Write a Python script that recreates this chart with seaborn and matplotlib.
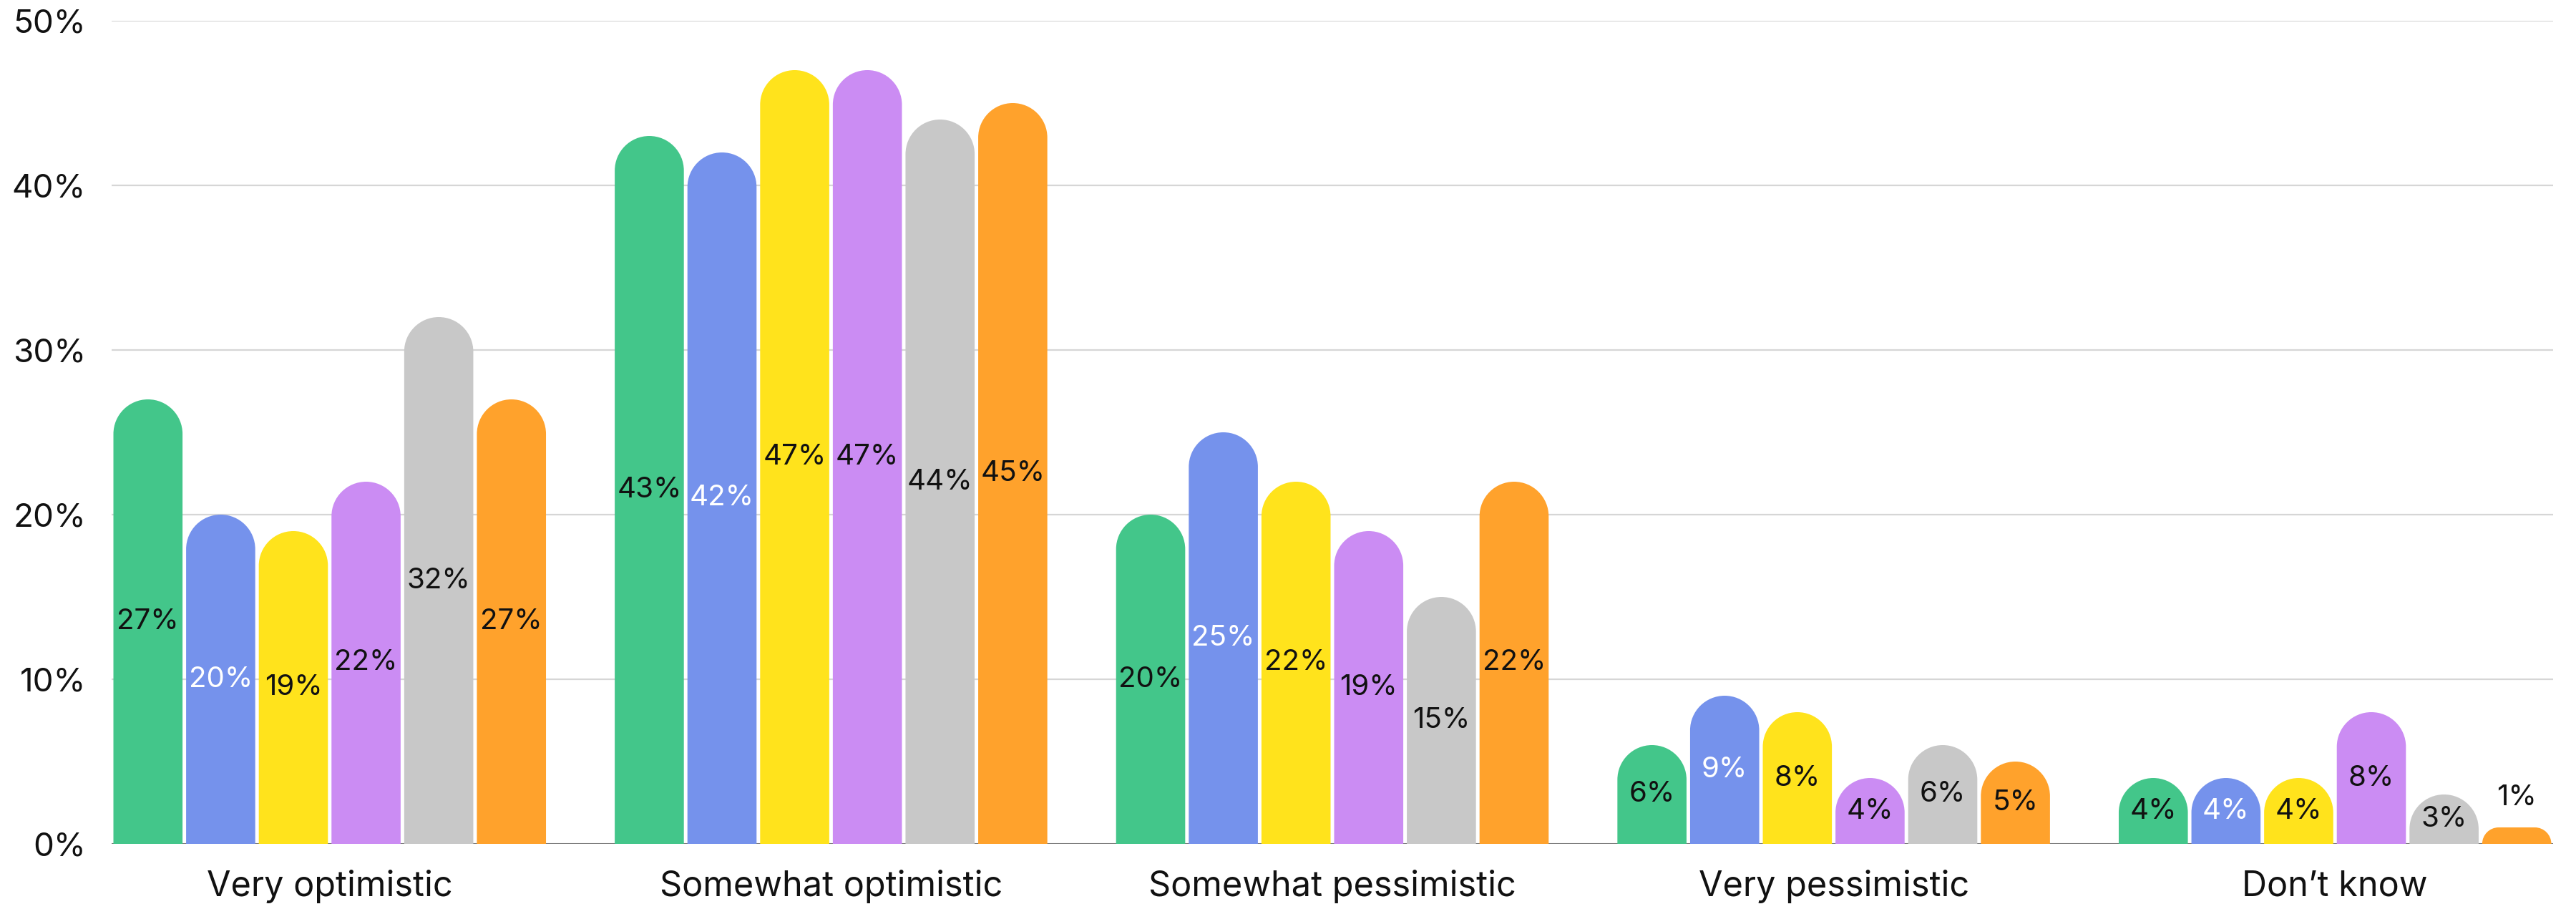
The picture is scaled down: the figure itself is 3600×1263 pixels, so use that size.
import matplotlib
matplotlib.use("Agg")
import numpy as np
import pandas as pd
import seaborn as sns
import matplotlib.pyplot as plt
from matplotlib.path import Path
from matplotlib.patches import PathPatch
from matplotlib.ticker import PercentFormatter

# ---------------- data ----------------
categories = ["Very optimistic", "Somewhat optimistic", "Somewhat pessimistic",
              "Very pessimistic", "Don\u2019t know"]
series = ["Group 1", "Group 2", "Group 3", "Group 4", "Group 5", "Group 6"]
green_vals = [27, 43, 20, 6, 4]
blue_vals = [20, 42, 25, 9, 4]
yellow_vals = [19, 47, 22, 8, 4]
purple_vals = [22, 47, 19, 4, 8]
gray_vals = [32, 44, 15, 6, 3]
orange_vals = [27, 45, 22, 5, 1]
all_vals = [green_vals, blue_vals, yellow_vals, purple_vals, gray_vals, orange_vals]

colors = ["#43C68A", "#7592EC", "#FFE31C", "#CB8CF3", "#C8C8C8", "#FFA22C"]
label_colors = ["#111111", "#FFFFFF", "#111111", "#111111", "#111111", "#111111"]

rows = []
for s, vals in zip(series, all_vals):
    for c, v in zip(categories, vals):
        rows.append({"category": c, "series": s, "value": v})
df = pd.DataFrame(rows)

# ---------------- figure ----------------
sns.set_theme(style="white")
plt.rcParams["font.family"] = ["Inter", "DejaVu Sans"]

W, H, DPI = 3600, 1263, 200
fig = plt.figure(figsize=(W / DPI, H / DPI), dpi=DPI)
ax_left, ax_right = 156 / W, 3568 / W
ax_bottom, ax_top = (H - 1179) / H, (H - 29) / H
ax = fig.add_axes([ax_left, ax_bottom, ax_right - ax_left, ax_top - ax_bottom])

group_width = 0.87
sns.barplot(data=df, x="category", y="value", hue="series", order=categories,
            hue_order=series, palette=colors, width=group_width, dodge=True,
            legend=False, ax=ax, zorder=2)

ax.set_xlim(-group_width / 2, len(categories) - 1 + group_width / 2)
ax.set_ylim(0, 50)

# pixel <-> data conversions
ax_w_px = (ax_right - ax_left) * W
ax_h_px = (ax_top - ax_bottom) * H
x_per_px = (len(categories) - 1 + group_width) / ax_w_px
y_per_px = 50 / ax_h_px
gap = 5 * x_per_px


def rounded_bar(x0, x1, h):
    width_px = (x1 - x0) / x_per_px
    h_px = h / y_per_px
    r_px = min(width_px / 2, h_px)
    rx = r_px * x_per_px
    ry = r_px * y_per_px
    k = 0.5523
    verts = [(x0, 0), (x0, h - ry),
             (x0, h - ry + k * ry), (x0 + rx - k * rx, h), (x0 + rx, h),
             (x1 - rx, h),
             (x1 - rx + k * rx, h), (x1, h - ry + k * ry), (x1, h - ry),
             (x1, 0), (x0, 0)]
    codes = [Path.MOVETO, Path.LINETO,
             Path.CURVE4, Path.CURVE4, Path.CURVE4,
             Path.LINETO,
             Path.CURVE4, Path.CURVE4, Path.CURVE4,
             Path.LINETO, Path.CLOSEPOLY]
    return Path(verts, codes)


for si, cont in enumerate(ax.containers):
    for bar in cont:
        x0 = bar.get_x() + gap / 2
        x1 = bar.get_x() + bar.get_width() - gap / 2
        h = bar.get_height()
        bar.set_visible(False)
        ax.add_patch(PathPatch(rounded_bar(x0, x1, h), facecolor=colors[si],
                               edgecolor="none", zorder=3))
        xc = (x0 + x1) / 2
        if h >= 2:
            ax.text(xc, h / 2, f"{h:.0f}%", ha="center", va="center",
                    color=label_colors[si], fontsize=14.5, zorder=4)
        else:
            ax.text(xc, h + 1.0, f"{h:.0f}%", ha="center", va="bottom",
                    color="#111111", fontsize=14.5, zorder=4)

# axes styling
for sp in ax.spines.values():
    sp.set_visible(False)
ax.yaxis.set_major_formatter(PercentFormatter(decimals=0))
ax.set_yticks([0, 10, 20, 30, 40, 50])
ax.yaxis.grid(True, color="#d6d6d6", linewidth=0.8, zorder=0)
ax.set_axisbelow(True)
ax.axhline(0, color="#7a7a7a", linewidth=0.7, zorder=1)
ax.tick_params(axis="y", length=0, pad=13, labelsize=16.5, labelcolor="#111111")
ax.tick_params(axis="x", length=0, pad=13, labelsize=17.5, labelcolor="#111111")
ax.set_xlabel("")
ax.set_ylabel("")

fig.savefig("out.png", dpi=DPI, facecolor="white")
